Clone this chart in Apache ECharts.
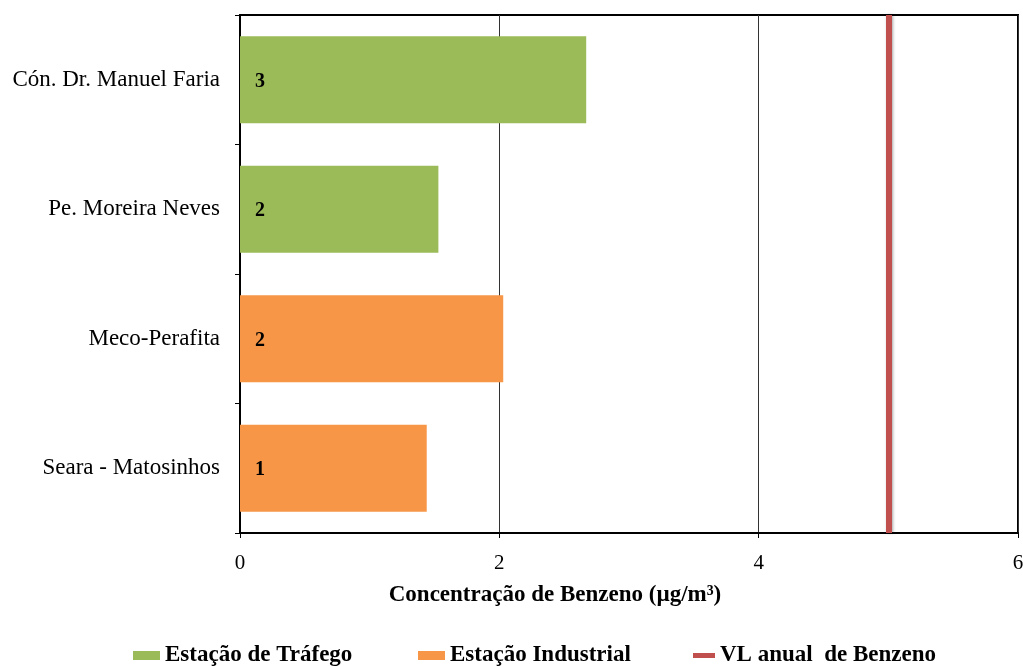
<!DOCTYPE html>
<html><head><meta charset="utf-8">
<script src="https://cdn.jsdelivr.net/npm/echarts@6/dist/echarts.min.js"></script>
<style>html,body{margin:0;padding:0;background:#fff}#c{width:1023px;height:666px}</style>
</head><body><div id="c"></div>
<script>
// categories listed bottom to top (ECharts category y axis order)
const categories = ['Seara - Matosinhos', 'Meco-Perafita', 'Pe. Moreira Neves', 'Cón. Dr. Manuel Faria'];
const trafego = [null, null, 1.53, 2.67];
const industrial = [1.44, 2.03, null, null];
const limitValue = 5;
const xTicks = [0, 2, 4, 6];
const seriesNames = ['Estação de Tráfego', 'Estação Industrial', 'VL anual  de Benzeno'];

const serif = '"Liberation Serif", "DejaVu Serif", serif';
const chart = echarts.init(document.getElementById('c'));
const labelCfg = {
  show: true, position: 'insideLeft', distance: 15, offset: [0, 2],
  color: '#000', fontFamily: serif, fontWeight: 'bold', fontSize: 20,
  formatter: p => Math.round(p.value)
};
const legendText = {fontFamily: serif, fontWeight: 'bold', fontSize: 23, color: '#000'};
chart.setOption({
  animation: false,
  grid: {left: 240, right: 5, top: 15, bottom: 133, outerBoundsMode: 'none', containLabel: false,
         show: true, borderColor: '#000', borderWidth: 2},
  legend: [
    {data: [seriesNames[0]], left: 128, top: 639, itemWidth: 27, itemHeight: 9, itemGap: 7, textStyle: legendText, icon: 'rect'},
    {data: [seriesNames[1]], left: 413, top: 639, itemWidth: 27, itemHeight: 9, itemGap: 8, textStyle: legendText, icon: 'rect'},
    {data: [seriesNames[2]], left: 688, top: 639, itemWidth: 22, itemHeight: 5, itemGap: 3, textStyle: legendText, icon: 'rect'}
  ],
  xAxis: {
    type: 'value', min: xTicks[0], max: xTicks[xTicks.length - 1], interval: 2,
    name: 'Concentração de Benzeno (µg/m³)', nameLocation: 'middle', nameGap: 51,
    nameTextStyle: {fontFamily: serif, fontWeight: 'bold', fontSize: 23, color: '#000', padding: [0, 148, 0, 0]},
    axisLine: {show: true, lineStyle: {color: '#000', width: 2}},
    axisTick: {show: true, length: 5, lineStyle: {color: '#000'}},
    axisLabel: {fontFamily: serif, fontSize: 21, color: '#000', margin: 20},
    splitLine: {show: true, lineStyle: {color: '#333', width: 1}}
  },
  yAxis: {
    type: 'category', data: categories,
    axisLine: {show: true, lineStyle: {color: '#000', width: 2}},
    axisTick: {show: true, length: 5, lineStyle: {color: '#000'}},
    axisLabel: {fontFamily: serif, fontSize: 23, color: '#000', margin: 20}
  },
  series: [
    {name: seriesNames[0], type: 'bar', stack: 's', data: trafego, barCategoryGap: '33%',
     itemStyle: {color: '#9bbb59'}, label: labelCfg},
    {name: seriesNames[1], type: 'bar', stack: 's', data: industrial, barCategoryGap: '33%',
     itemStyle: {color: '#f79646'}, label: labelCfg},
    {name: seriesNames[2], type: 'line', data: [], symbol: 'none',
     itemStyle: {color: '#c0504d', shadowColor: 'rgba(0,0,0,0.35)', shadowBlur: 3, shadowOffsetY: 2},
     lineStyle: {color: '#c0504d', width: 5},
     markLine: {silent: true, symbol: 'none', label: {show: false},
       lineStyle: {color: '#c0504d', width: 6, type: 'solid', shadowColor: 'rgba(0,0,0,0.35)', shadowBlur: 3, shadowOffsetX: 1},
       data: [{xAxis: limitValue}]}}
  ]
});
</script></body></html>
